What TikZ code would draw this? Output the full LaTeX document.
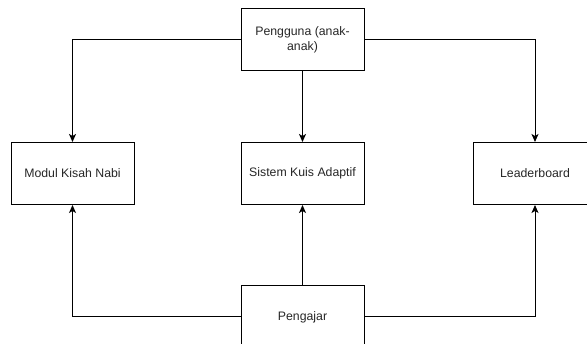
\documentclass[tikz,border=0pt]{standalone}
\usepackage{fontspec}
\setmainfont{Liberation Sans}
\usetikzlibrary{arrows.meta}
\begin{document}
\begin{tikzpicture}[x=1pt,y=-1pt,
  box/.style={draw=black, line width=1pt, rectangle, minimum width=123pt, minimum height=62pt, inner sep=0pt, align=center, font=\fontsize{12.3}{14.8}\selectfont, text=black!85},
  conn/.style={draw=black, line width=1pt, -{Stealth[length=8pt,width=7pt,inset=2pt]}}]
\clip (0,0) rectangle (587,344);
\useasboundingbox (0,0) rectangle (587,344);
\node[box] (user) at (302.5,40) {Pengguna (anak-\\anak)};
\node[box] (modul) at (72.5,173.5) {Modul Kisah Nabi};
\node[box] (kuis) at (302.5,173.5) {Sistem Kuis Adaptif};
\node[box] (lead) at (535,173.5) {Leaderboard};
\node[box] (guru) at (302.5,317) {Pengajar};
\draw[conn] (user.west) -| (modul.north);
\draw[conn] (user.south) -- (kuis.north);
\draw[conn] (user.east) -| (lead.north);
\draw[conn] (guru.west) -| (modul.south);
\draw[conn] (guru.north) -- (kuis.south);
\draw[conn] (guru.east) -| (lead.south);
\end{tikzpicture}
\end{document}
